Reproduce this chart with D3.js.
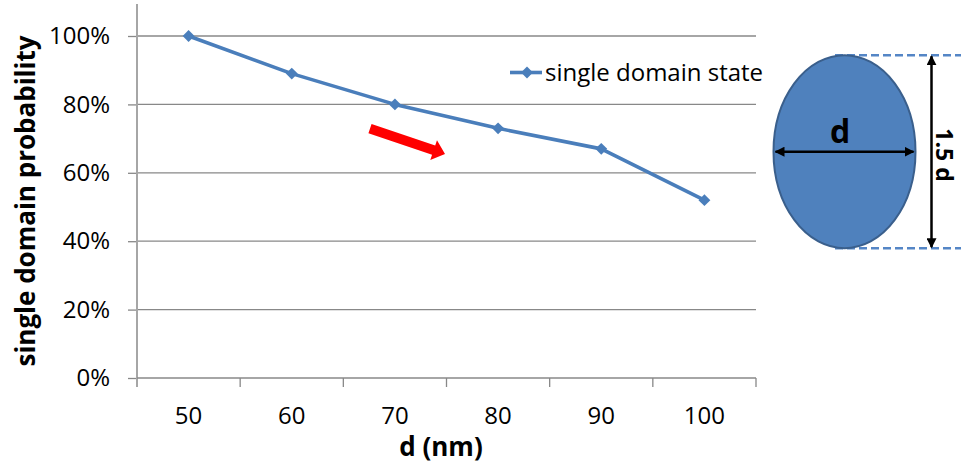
<!DOCTYPE html>
<html>
<head>
<meta charset="utf-8">
<script src="https://cdn.jsdelivr.net/npm/d3@7/dist/d3.min.js"></script>
<style>
  html, body { margin: 0; padding: 0; background: #fff; }
  svg { display: block; }
  text { font-family: "Open Sans", "Noto Sans", sans-serif; fill: #000; }
</style>
</head>
<body>
<svg id="chart" width="961" height="466"></svg>
<script>
// Particle diameter (nm) and probability of ending up in the single domain state
const diameters = ["50", "60", "70", "80", "90", "100"];
const singleDomain = [1.00, 0.89, 0.80, 0.73, 0.67, 0.52];
const yTicks = [0, 0.2, 0.4, 0.6, 0.8, 1.0];
const seriesName = "single domain state";
const xTitle = "d (nm)";
const yTitle = "single domain probability";

const svg = d3.select("#chart");
const lineColor = "#4a7ebb";
const gridColor = "#888888";
const axisColor = "#a6a6a6";

const plot = { left: 137, right: 756, top: 4 };
const x = d3.scaleBand().domain(diameters).range([plot.left, plot.right]).padding(0);
const y = d3.scaleLinear().domain([0, 1]).range([378, 36]);
const cx = d => x(d) + x.bandwidth() / 2;

// horizontal gridlines
svg.append("g").selectAll("line").data(yTicks.slice(1)).join("line")
  .attr("x1", plot.left).attr("x2", plot.right)
  .attr("y1", d => y(d)).attr("y2", d => y(d))
  .attr("stroke", gridColor).attr("stroke-width", 1.3);

// y axis with percent labels
const yAxis = svg.append("g").attr("transform", `translate(${plot.left},0)`)
  .call(d3.axisLeft(y).tickValues(yTicks).tickFormat(d3.format(".0%")).tickSize(9).tickPadding(18));
yAxis.select(".domain").remove();
yAxis.selectAll(".tick line").attr("stroke", gridColor).attr("stroke-width", 1.3);
yAxis.selectAll(".tick text").attr("font-size", 24).attr("font-family", "Open Sans").attr("fill", "#000");
svg.append("line")
  .attr("x1", plot.left).attr("x2", plot.left)
  .attr("y1", plot.top).attr("y2", y(0) + 9)
  .attr("stroke", axisColor).attr("stroke-width", 2);

// x axis: tick marks between categories, labels centred on them
svg.append("line")
  .attr("x1", plot.left).attr("x2", plot.right)
  .attr("y1", y(0)).attr("y2", y(0))
  .attr("stroke", gridColor).attr("stroke-width", 1.3);
const bounds = diameters.map(d => x(d)).concat([plot.right]);
svg.append("g").selectAll("line").data(bounds.slice(1)).join("line")
  .attr("x1", d => d).attr("x2", d => d)
  .attr("y1", y(0)).attr("y2", y(0) + 9)
  .attr("stroke", gridColor).attr("stroke-width", 1.3);
svg.append("g").selectAll("text").data(diameters).join("text")
  .attr("x", d => cx(d)).attr("y", 424)
  .attr("text-anchor", "middle").attr("font-size", 24)
  .text(d => d);

// axis titles
svg.append("text")
  .attr("x", 441).attr("y", 456)
  .attr("text-anchor", "middle").attr("font-size", 26).attr("font-weight", "bold")
  .text(xTitle);
svg.append("text")
  .attr("transform", "translate(35,201) rotate(-90)")
  .attr("text-anchor", "middle").attr("font-size", 26).attr("font-weight", "bold")
  .text(yTitle);

// data line with diamond markers
const line = d3.line().x((d, i) => cx(diameters[i])).y(d => y(d));
svg.append("path").datum(singleDomain)
  .attr("d", line).attr("fill", "none")
  .attr("stroke", lineColor).attr("stroke-width", 3.6).attr("stroke-linejoin", "round");
const diamond = d3.symbol().type(d3.symbolDiamond2).size(90);
svg.append("g").selectAll("path").data(singleDomain).join("path")
  .attr("transform", (d, i) => `translate(${cx(diameters[i])},${y(d)})`)
  .attr("d", diamond).attr("fill", lineColor);

// legend
const lg = svg.append("g");
lg.append("line").attr("x1", 510).attr("x2", 542).attr("y1", 72.5).attr("y2", 72.5)
  .attr("stroke", lineColor).attr("stroke-width", 3.6);
lg.append("path").attr("transform", "translate(527,72.5)").attr("d", diamond).attr("fill", lineColor);
lg.append("text").attr("x", 545).attr("y", 81).attr("font-size", 24).text(seriesName);

// red trend arrow
(function () {
  const x0 = 370, y0 = 128.7, x1 = 445, y1 = 154;
  const L = Math.hypot(x1 - x0, y1 - y0);
  const ang = Math.atan2(y1 - y0, x1 - x0) * 180 / Math.PI;
  const sw = 4.9, hw = 10.5, hl = 12;
  const pts = [[0, -sw], [L - hl, -sw], [L - hl, -hw], [L, 0], [L - hl, hw], [L - hl, sw], [0, sw]];
  svg.append("polygon")
    .attr("points", pts.map(p => p.join(",")).join(" "))
    .attr("transform", `translate(${x0},${y0}) rotate(${ang})`)
    .attr("fill", "#ff0000");
})();

// particle sketch: ellipse of width d and height 1.5 d
const ell = { cx: 844.5, cy: 151.7, rx: 71, ry: 96.5 };
const dashColor = "#5586c6";
svg.append("defs").html(`
  <marker id="ah" viewBox="0 0 10 10" refX="9" refY="5" markerWidth="4" markerHeight="4" orient="auto-start-reverse">
    <path d="M0,0 L10,5 L0,10 z" fill="#000"/>
  </marker>`);
[ell.cy - ell.ry, ell.cy + ell.ry].forEach(yy => {
  svg.append("line").attr("x1", 835).attr("x2", 961).attr("y1", yy).attr("y2", yy)
    .attr("stroke", dashColor).attr("stroke-width", 2.4).attr("stroke-dasharray", "8,4");
});
svg.append("ellipse")
  .attr("cx", ell.cx).attr("cy", ell.cy).attr("rx", ell.rx).attr("ry", ell.ry)
  .attr("fill", "#4f81bd").attr("stroke", "#3a5f8c").attr("stroke-width", 2);
svg.append("line")
  .attr("x1", ell.cx - ell.rx + 2).attr("x2", ell.cx + ell.rx - 2)
  .attr("y1", ell.cy).attr("y2", ell.cy)
  .attr("stroke", "#000").attr("stroke-width", 2.5)
  .attr("marker-start", "url(#ah)").attr("marker-end", "url(#ah)");
svg.append("text").attr("x", 840).attr("y", 143)
  .attr("text-anchor", "middle").attr("font-size", 32).attr("font-weight", "bold").text("d");
svg.append("line")
  .attr("x1", 931.5).attr("x2", 931.5)
  .attr("y1", ell.cy - ell.ry + 1).attr("y2", ell.cy + ell.ry - 1)
  .attr("stroke", "#000").attr("stroke-width", 2.5)
  .attr("marker-start", "url(#ah)").attr("marker-end", "url(#ah)");
svg.append("text")
  .attr("transform", "translate(936,155) rotate(90)")
  .attr("text-anchor", "middle").attr("font-size", 23).attr("font-weight", "bold").text("1.5 d");
</script>
</body>
</html>
